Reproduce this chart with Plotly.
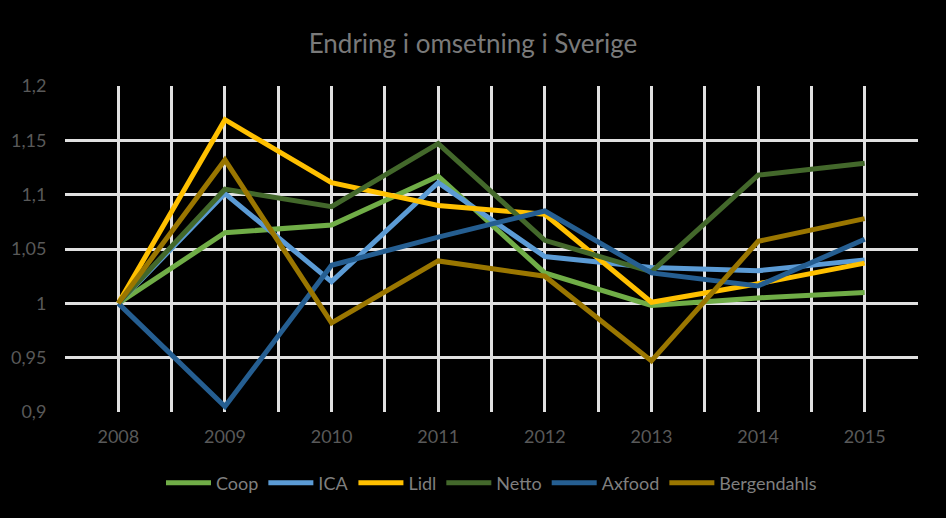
import plotly.graph_objects as go

years = ["2008", "2009", "2010", "2011", "2012", "2013", "2014", "2015"]
coop = [1.0, 1.065, 1.072, 1.117, 1.028, 0.998, 1.005, 1.010]
ica = [1.0, 1.101, 1.020, 1.111, 1.043, 1.033, 1.030, 1.040]
lidl = [1.0, 1.169, 1.111, 1.090, 1.082, 1.001, 1.018, 1.037]
netto = [1.0, 1.105, 1.089, 1.147, 1.058, 1.029, 1.118, 1.129]
axfood = [1.0, 0.905, 1.035, 1.061, 1.085, 1.028, 1.016, 1.059]
bergendahls = [1.0, 1.132, 0.982, 1.039, 1.025, 0.947, 1.057, 1.078]

series = [
    ("Coop", coop, "#70AD47"),
    ("ICA", ica, "#5B9BD5"),
    ("Lidl", lidl, "#FFC000"),
    ("Netto", netto, "#43682B"),
    ("Axfood", axfood, "#255E91"),
    ("Bergendahls", bergendahls, "#9A7600"),
]

xs = list(range(len(years)))
fig = go.Figure()
for name, vals, col in series:
    fig.add_trace(go.Scatter(x=xs, y=vals, name=name, mode="lines",
                             line=dict(color=col, width=5)))

tickvals = [i / 2 for i in range(-1, 2 * len(years))]
ticktext = [years[int(v)] if v >= 0 and v == int(v) else "" for v in tickvals]

fig.update_layout(
    width=946, height=518,
    paper_bgcolor="black", plot_bgcolor="black",
    separators=", ",
    font=dict(family="Lato, Open Sans, sans-serif", color="#595959", size=18),
    title=dict(text="Endring i omsetning i Sverige", x=0.5, xanchor="center",
               y=0.915, yanchor="middle",
               font=dict(size=26, color="#7a7a7a")),
    margin=dict(l=65, r=28, t=86, b=106),
    xaxis=dict(range=[-0.5, 7.5], tickmode="array", tickvals=tickvals, ticktext=ticktext,
               showgrid=True, gridcolor="#e0e0e0", gridwidth=2.5, zeroline=False,
               showline=False, ticks="outside", ticklen=8, tickcolor="black",
               tickfont=dict(size=18, color="#595959")),
    yaxis=dict(range=[0.9, 1.2], dtick=0.05, tick0=0.9, showgrid=True,
               gridcolor="#e0e0e0", gridwidth=2.5, zeroline=False, showline=False,
               ticks="outside", ticklen=14, tickcolor="black",
               tickfont=dict(size=18, color="#595959")),
    legend=dict(orientation="h", x=0.5, xanchor="center", y=-0.218, yanchor="middle",
                font=dict(size=18, color="#7f7f7f"), bgcolor="rgba(0,0,0,0)",
                itemwidth=45, tracegroupgap=0),
)

fig.write_html("out.html", config={"displayModeBar": False},
               post_script="document.body.style.margin='0';document.body.style.background='black';")
